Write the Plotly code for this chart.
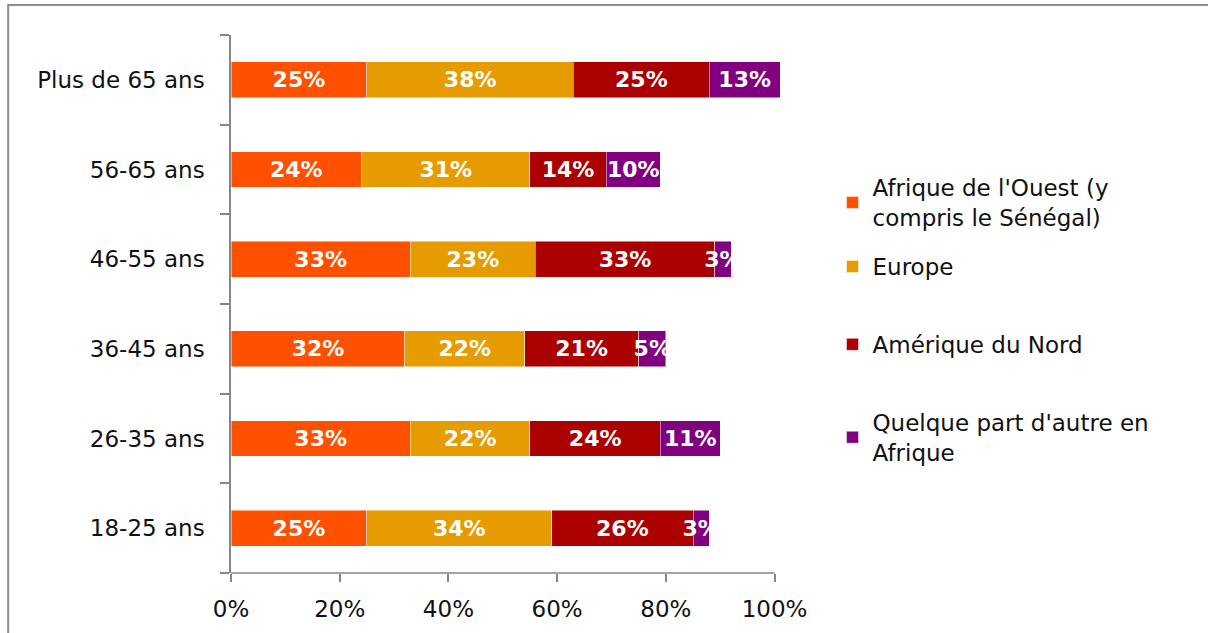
import plotly.graph_objects as go

age_groups = ["18-25 ans", "26-35 ans", "36-45 ans", "46-55 ans", "56-65 ans", "Plus de 65 ans"]

series_names = [
    "Afrique de l'Ouest (y<br>compris le Sénégal)",
    "Europe",
    "Amérique du Nord",
    "Quelque part d'autre en<br>Afrique",
]
afrique_ouest = [25, 33, 32, 33, 24, 25]
europe = [34, 22, 22, 23, 31, 38]
amerique_nord = [26, 24, 21, 33, 14, 25]
autre_afrique = [3, 11, 5, 3, 10, 13]

pct_ticks = [0, 20, 40, 60, 80, 100]
pct_labels = ["0%", "20%", "40%", "60%", "80%", "100%"]

colors = ["#FF5000", "#E69C00", "#AA0000", "#800080"]
values = [afrique_ouest, europe, amerique_nord, autre_afrique]

FONT = "DejaVu Sans"
AXIS = "#868686"
TEXT = "#111111"
LABEL_SIZE = 23
BAR_TEXT_SIZE = 22
X_MAX = 101  # leave room for rows whose rounded shares add up past 100

PLOT_L, PX_PER_PCT = 231, 5.44
PLOT_T, PLOT_B = 35, 573
plot_w = X_MAX * PX_PER_PCT
plot_h = PLOT_B - PLOT_T

fig = go.Figure()
for i, (name, vals, col) in enumerate(zip(series_names, values, colors)):
    fig.add_trace(go.Bar(
        y=age_groups,
        x=vals,
        orientation="h",
        name=name,
        legend="legend" if i == 0 else "legend2",
        legendgroup=f"g{i}",
        marker=dict(color=col, line=dict(color="rgba(255,255,255,0.6)", width=0.8)),
        width=0.4,
        text=[f"{v}%" for v in vals],
        textposition="inside",
        insidetextanchor="middle",
        textangle=0,
        textfont=dict(family=FONT, size=BAR_TEXT_SIZE, color="white", weight="bold"),
        hoverinfo="skip",
    ))

legend_style = dict(
    xanchor="left", yanchor="top",
    traceorder="grouped",
    font=dict(family=FONT, size=LABEL_SIZE, color=TEXT),
    itemwidth=30,
    bgcolor="rgba(0,0,0,0)",
)
legend_x = (833 - PLOT_L) / plot_w

fig.update_layout(
    barmode="stack",
    width=1208,
    height=633,
    margin=dict(l=PLOT_L, r=1208 - PLOT_L - plot_w, t=PLOT_T, b=633 - PLOT_B),
    paper_bgcolor="white",
    plot_bgcolor="white",
    font=dict(family=FONT, size=LABEL_SIZE, color=TEXT),
    uniformtext=dict(minsize=BAR_TEXT_SIZE, mode="show"),
    showlegend=True,
    legend=dict(x=legend_x, y=(PLOT_B - 166) / plot_h, **legend_style),
    legend2=dict(x=legend_x, y=(PLOT_B - 245) / plot_h, tracegroupgap=45, **legend_style),
    xaxis=dict(
        range=[0, X_MAX],
        tickvals=pct_ticks,
        ticktext=pct_labels,
        showgrid=False,
        zeroline=False,
        showline=False,
        ticks="outside",
        ticklen=8,
        tickcolor=AXIS,
        tickwidth=1.5,
        ticklabelstandoff=7,
        tickfont=dict(family=FONT, size=LABEL_SIZE, color=TEXT),
    ),
    yaxis=dict(
        range=[-0.5, 5.5],
        showgrid=False,
        zeroline=False,
        showline=True,
        linecolor=AXIS,
        linewidth=1.5,
        ticks="outside",
        tickson="boundaries",
        ticklen=9,
        tickcolor=AXIS,
        tickwidth=1.5,
        ticklabelstandoff=20,
        tickfont=dict(family=FONT, size=LABEL_SIZE, color=TEXT),
    ),
)

# Horizontal axis line, stopping at the 100% tick
fig.add_shape(
    type="line", xref="x", yref="paper",
    x0=0, x1=100, y0=0, y1=0,
    line=dict(color=AXIS, width=1.5),
)

# Outer frame on the left and top edges of the chart area
fx = (8 - PLOT_L) / plot_w
fy = (PLOT_B - 5) / plot_h
fig.add_shape(
    type="path",
    xref="paper", yref="paper",
    path=f"M {fx},-0.2 L {fx},{fy} L 2,{fy}",
    line=dict(color="#8C8C8C", width=2),
)

fig.write_html("out.html")
